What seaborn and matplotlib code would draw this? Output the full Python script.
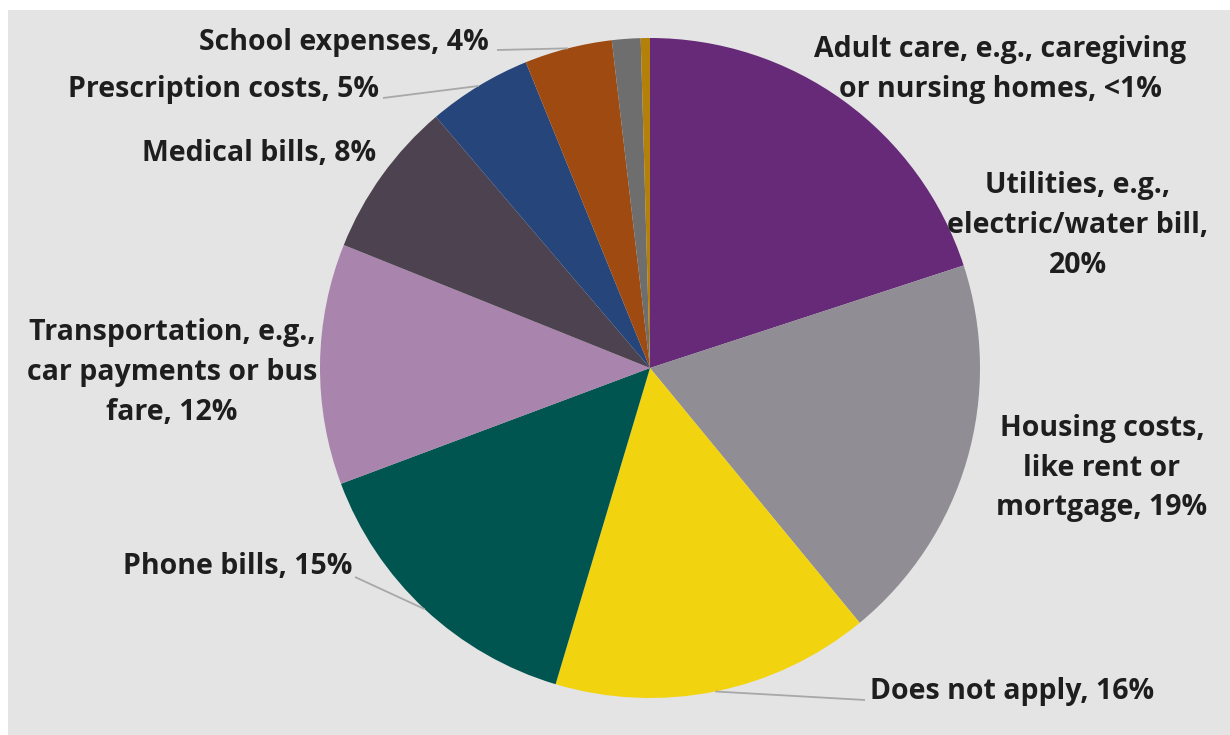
import numpy as np
import matplotlib
matplotlib.use("Agg")
import matplotlib.pyplot as plt
from matplotlib.patches import Rectangle
import seaborn as sns

# Share of respondents by expense type (percent)
categories = [
    "Utilities", "Housing costs", "Does not apply", "Phone bills",
    "Transportation", "Medical bills", "Prescription costs",
    "School expenses", "Other", "Adult care",
]
shares = [20.0, 19.1, 15.6, 14.7, 11.8, 7.7, 5.1, 4.3, 1.4, 0.45]
label_templates = [
    "Utilities, e.g.,\nelectric/water bill,\n{}",
    "Housing costs,\nlike rent or\nmortgage, {}",
    "Does not apply, {}",
    "Phone bills, {}",
    "Transportation, e.g.,\ncar payments or bus\nfare, {}",
    "Medical bills, {}",
    "Prescription costs, {}",
    "School expenses, {}",
    "",
    "Adult care, e.g., caregiving\nor nursing homes, {}",
]
slice_colors = [
    "#662a78", "#908d94", "#f2d30f", "#005550", "#a985ad",
    "#4d424f", "#26457a", "#9e4a10", "#6e6e6e", "#b3800a",
]

W, H = 1230, 735
sns.set_theme(style="white")
plt.rcParams["font.family"] = ["Open Sans", "DejaVu Sans"]

fig = plt.figure(figsize=(W / 100, H / 100), dpi=100, facecolor="white")
ax = fig.add_axes([0, 0, 1, 1])
ax.set_axis_off()

# light grey panel behind the chart
ax.add_patch(Rectangle((8, 0), W - 8, H - 10, facecolor="#e4e4e4",
                       edgecolor="none", zorder=0))

center = (650, H - 368)
radius = 330
palette = sns.color_palette(slice_colors)
wedges, _ = ax.pie(shares, colors=palette, startangle=90, counterclock=False,
                   center=center, radius=radius, frame=True,
                   wedgeprops=dict(linewidth=0, zorder=2))
ax.set_xlim(0, W)
ax.set_ylim(0, H)
ax.set_aspect("equal", adjustable="box")
ax.set_axis_off()


def pct_text(v):
    return "<1%" if v < 1 else f"{round(v)}%"


# label placement: (x, y in pixels from top, alignment, leader-line end or None)
placement = {
    "Utilities": (1078, 225, "center", None),
    "Housing costs": (1102, 468, "center", None),
    "Does not apply": (870, 692, "left", (865, 700)),
    "Phone bills": (352, 567, "right", (355, 577)),
    "Transportation": (172, 372, "center", None),
    "Medical bills": (376, 153, "right", None),
    "Prescription costs": (379, 89, "right", (383, 98)),
    "School expenses": (489, 42, "right", (497, 50)),
    "Adult care": (1000, 69, "center", None),
}

for cat, val, tmpl, w in zip(categories, shares, label_templates, wedges):
    if cat not in placement:
        continue
    x, y, ha, lead = placement[cat]
    ax.text(x, H - y, tmpl.format(pct_text(val)), ha=ha, va="center",
            multialignment="center", fontsize=20.5, fontweight="bold",
            color="#1e1e1e", linespacing=1.5, zorder=4)
    if lead is not None:
        mid = np.deg2rad((w.theta1 + w.theta2) / 2)
        px = center[0] + radius * np.cos(mid)
        py = center[1] + radius * np.sin(mid)
        ax.plot([lead[0], px], [H - lead[1], py], color="#a8a8a8",
                lw=1.3, zorder=3, solid_capstyle="butt")

fig.savefig("out.png", dpi=100, facecolor="white")
